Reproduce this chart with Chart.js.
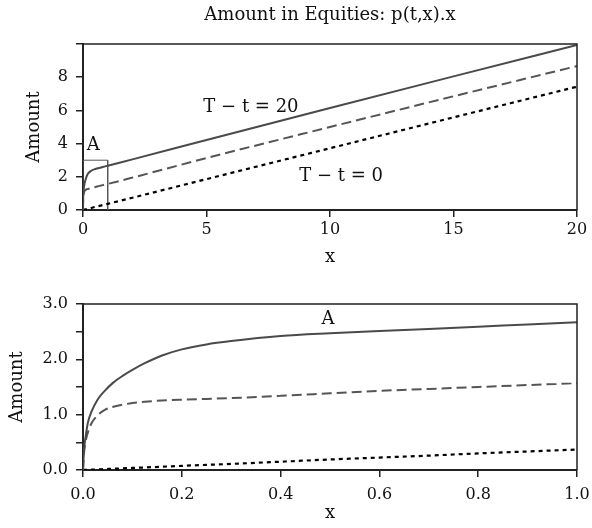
<!DOCTYPE html>
<html>
<head>
<meta charset="utf-8">
<script src="https://cdn.jsdelivr.net/npm/chart.js@4"></script>
<style>
  html, body { margin: 0; padding: 0; background: #fff; }
  #wrap { position: relative; width: 592px; height: 528px; }
  canvas { position: absolute; left: 0; }
</style>
</head>
<body>
<div id="wrap">
  <canvas id="topChart" width="592" height="268" style="top:0"></canvas>
  <canvas id="zoomChart" width="592" height="260" style="top:268px"></canvas>
</div>
<script>
// x grid near 0 (the zoom panel, also the start of the top panel)
const xFine = [0, 0.002, 0.005, 0.01, 0.017, 0.03, 0.045, 0.06, 0.08, 0.1, 0.125, 0.16, 0.2, 0.25, 0.3, 0.4, 0.5, 0.6, 0.7, 0.8, 0.9, 1.0];
const longFine = [0, 0.36, 0.58, 0.86, 1.05, 1.28, 1.44, 1.57, 1.70, 1.81, 1.93, 2.07, 2.18, 2.27, 2.33, 2.42, 2.47, 2.51, 2.55, 2.59, 2.63, 2.67];
const midFine = [0, 0.3, 0.5, 0.68, 0.84, 0.99, 1.09, 1.14, 1.18, 1.21, 1.235, 1.255, 1.27, 1.285, 1.30, 1.34, 1.385, 1.43, 1.465, 1.50, 1.535, 1.57];
const zeroFine = [0, 0.001, 0.002, 0.004, 0.006, 0.011, 0.017, 0.022, 0.03, 0.037, 0.046, 0.059, 0.075, 0.093, 0.11, 0.15, 0.19, 0.225, 0.26, 0.30, 0.335, 0.37];

// rest of the top panel
const xWide = [2, 5, 10, 15, 20];
const longWide = [3.05, 4.22, 6.15, 8.05, 9.94];
const midWide = [1.95, 3.13, 5.0, 6.85, 8.67];
const zeroWide = [0.74, 1.86, 3.72, 5.58, 7.43];

// zoom box "A"
const boxX = [0, 0, 1, 1];
const boxY = [0, 3, 3, 0];

const topXTicks = [0, 5, 10, 15, 20];
const topYTicks = [0, 2, 4, 6, 8, 10];
const zoomXTicks = [0, 0.2, 0.4, 0.6, 0.8, 1.0];

const topTitle = 'Amount in Equities: p(t,x).x';
const topNotes = [
  { x: 6.8, y: 6.2, text: 'T − t = 20' },
  { x: 10.45, y: 2.0, text: 'T − t = 0' },
  { x: 0.42, y: 3.9, text: 'A' }
];
const zoomNotes = [
  { x: 0.496, y: 2.72, text: 'A' }
];

const FONT = '"DejaVu Serif", "Liberation Serif", serif';
const INK = '#222';

function pts(xs, ys) {
  return xs.map((x, i) => ({ x: x, y: ys[i] }));
}

function seriesSets(xs, longY, midY, zeroY) {
  return [
    { label: 'T − t = 20', data: pts(xs, longY), borderColor: '#4a4a4a', borderWidth: 2 },
    { label: 'middle', data: pts(xs, midY), borderColor: '#555', borderWidth: 2, borderDash: [10, 5] },
    { label: 'T − t = 0', data: pts(xs, zeroY), borderColor: '#000', borderWidth: 2.2, borderDash: [4, 4] }
  ].map(d => Object.assign(d, { pointRadius: 0, fill: false, cubicInterpolationMode: 'monotone' }));
}

// top/right border of the plot box, plus a title centred over the plot area
const framePlugin = {
  id: 'frame',
  afterDraw(chart, args, opts) {
    const a = chart.chartArea, ctx = chart.ctx;
    ctx.save();
    ctx.strokeStyle = INK;
    ctx.lineWidth = 1.5;
    ctx.beginPath();
    ctx.moveTo(a.left, a.top);
    ctx.lineTo(a.right, a.top);
    ctx.lineTo(a.right, a.bottom);
    ctx.stroke();
    if (opts.title) {
      ctx.fillStyle = '#111';
      ctx.font = '18px ' + FONT;
      ctx.textAlign = 'center';
      ctx.textBaseline = 'middle';
      ctx.fillText(opts.title, (a.left + a.right) / 2, 15);
    }
    ctx.restore();
  }
};

const notesPlugin = {
  id: 'notes',
  afterDatasetsDraw(chart, args, opts) {
    const ctx = chart.ctx, sx = chart.scales.x, sy = chart.scales.y;
    ctx.save();
    ctx.fillStyle = '#111';
    ctx.font = '18px ' + FONT;
    ctx.textAlign = 'center';
    ctx.textBaseline = 'middle';
    (opts.items || []).forEach(n => {
      ctx.fillText(n.text, sx.getPixelForValue(n.x), sy.getPixelForValue(n.y));
    });
    ctx.restore();
  }
};

const tickFont = { family: FONT, size: 16 };
const titleFont = { family: FONT, size: 18, lineHeight: 1.2 };

function axis(extra) {
  return Object.assign({
    type: 'linear',
    border: { color: INK, width: 2 },
    grid: { drawOnChartArea: false, drawTicks: true, tickLength: 7, color: INK, lineWidth: 1.5 }
  }, extra);
}

function fitX(s) {
  s.height = 58;
  s.paddingLeft = 0;
  s.paddingRight = 0;
}

Chart.defaults.font.family = FONT;

new Chart(document.getElementById('topChart'), {
  type: 'line',
  data: {
    datasets: seriesSets(xFine.concat(xWide), longFine.concat(longWide), midFine.concat(midWide), zeroFine.concat(zeroWide))
      .concat([{ label: 'box A', data: pts(boxX, boxY), borderColor: '#555', borderWidth: 1, pointRadius: 0, fill: false }])
  },
  options: {
    responsive: false,
    animation: false,
    layout: { padding: { left: 0, right: 15, top: 44, bottom: 0 } },
    plugins: {
      legend: { display: false },
      tooltip: { enabled: false },
      frame: { title: topTitle },
      notes: { items: topNotes }
    },
    scales: {
      x: axis({
        min: 0, max: 20,
        afterBuildTicks: s => { s.ticks = topXTicks.map(v => ({ value: v })); },
        afterFit: fitX,
        ticks: { color: '#111', font: tickFont, padding: 3 },
        title: { display: true, text: 'x', color: '#111', font: titleFont, padding: { top: 0, bottom: 0 } }
      }),
      y: axis({
        min: 0, max: 10,
        afterBuildTicks: s => { s.ticks = topYTicks.map(v => ({ value: v })); },
        afterFit: s => { s.width = 83; },
        ticks: {
          color: '#111', font: tickFont, padding: 8,
          callback: v => (v === 10 ? '' : String(v))
        },
        title: { display: true, text: 'Amount', color: '#111', font: titleFont, padding: { top: 24, bottom: 0 } }
      })
    }
  },
  plugins: [framePlugin, notesPlugin]
});

new Chart(document.getElementById('zoomChart'), {
  type: 'line',
  data: { datasets: seriesSets(xFine, longFine, midFine, zeroFine) },
  options: {
    responsive: false,
    animation: false,
    layout: { padding: { left: 0, right: 15, top: 36, bottom: 0 } },
    plugins: {
      legend: { display: false },
      tooltip: { enabled: false },
      frame: {},
      notes: { items: zoomNotes }
    },
    scales: {
      x: axis({
        min: 0, max: 1,
        afterBuildTicks: s => { s.ticks = zoomXTicks.map(v => ({ value: v })); },
        afterFit: fitX,
        ticks: {
          color: '#111', font: tickFont, padding: 8,
          callback: v => v.toFixed(1)
        },
        title: { display: true, text: 'x', color: '#111', font: titleFont, padding: { top: 0, bottom: 4 } }
      }),
      y: axis({
        min: 0, max: 3,
        ticks: {
          stepSize: 0.5, color: '#111', font: tickFont, padding: 8,
          callback: v => (Math.abs(v % 1) < 1e-9 ? v.toFixed(1) : '')
        },
        afterFit: s => { s.width = 83; },
        title: { display: true, text: 'Amount', color: '#111', font: titleFont, padding: { top: 7, bottom: 0 } }
      })
    }
  },
  plugins: [framePlugin, notesPlugin]
});
</script>
</body>
</html>
